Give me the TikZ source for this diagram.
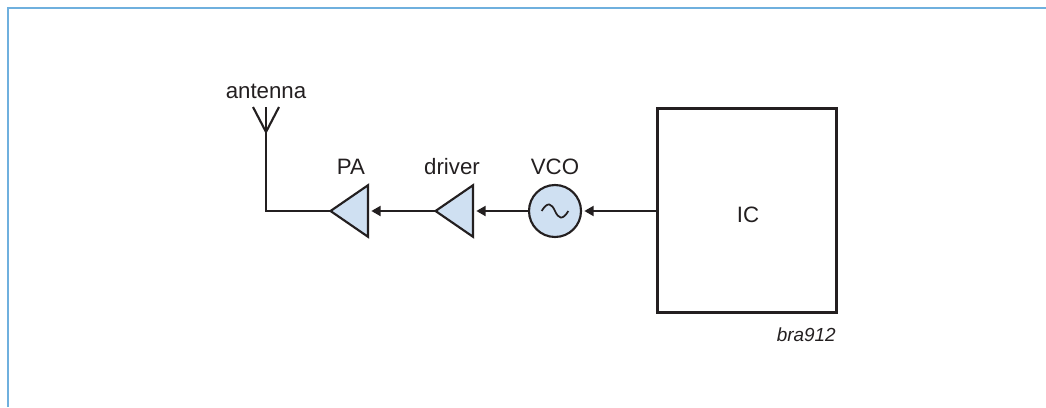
\documentclass[tikz,border=0pt]{standalone}
\usepackage{fontspec}
\setmainfont{Liberation Sans}
\usetikzlibrary{arrows.meta,shapes.geometric}
\definecolor{framecol}{HTML}{6FB0DE}
\definecolor{ampcol}{HTML}{CFE0F2}
\definecolor{inkcol}{HTML}{231F20}

\begin{document}
\begin{tikzpicture}[x=.75pt,y=-.75pt,font=\fontsize{16.7}{18}\selectfont,text=inkcol,
  wire/.style={draw=inkcol,line width=1.6pt},
  feed/.style={wire,-{Triangle[length=7pt,width=7.5pt]},shorten >=2.5pt},
  amp/.style={draw=inkcol,fill=ampcol,line width=1.6pt,shape=isosceles triangle,shape border rotate=180,
    isosceles triangle apex angle=69,minimum height=28bp,inner sep=0pt,outer sep=0pt,anchor=east},
  lbl/.style={inner sep=0pt,anchor=base}]
\useasboundingbox (0,0) rectangle (1046,407);

\draw[framecol,line width=1.3pt] (8,407) -- (8,8) -- (1046,8);

\coordinate (foot) at (266,211);
\coordinate (fork) at (266,132);
\coordinate (forkl) at (253,107);
\coordinate (forkm) at (266,107);
\coordinate (forkr) at (279,107);

\node[amp] (pa) at (368,211) {};
\node[amp] (driver) at (473,211) {};
\node[circle,draw=inkcol,fill=ampcol,line width=1.6pt,minimum size=39pt,inner sep=0pt,outer sep=0pt] (vco) at (555,211) {};
\node[draw=inkcol,line width=1.9pt,minimum width=134pt,minimum height=153pt,inner sep=0pt,outer sep=0pt] (ic) at (747,210.5) {};

\node[lbl] (antennalbl) at (266,98) {antenna};
\node[lbl] (palbl) at (351,174.5) {PA};
\node[lbl] (driverlbl) at (452,174.5) {driver};
\node[lbl] (vcolbl) at (555,174.5) {VCO};
\node[lbl] (iclbl) at (748,222) {IC};
\node[inner sep=0pt,anchor=base east,font=\fontsize{14.2}{16}\selectfont\itshape] (idlbl) at (836,341) {bra912};

\draw[wire] (forkl) -- (fork) -- (forkr);
\draw[wire] (forkm) -- (fork) -- (foot) -- (pa.west);
\draw[feed] (driver.west) -- (pa.east);
\draw[feed] (vco.west) -- (driver.east);
\draw[feed] (ic.west |- vco.east) -- (vco.east);

\draw[inkcol,line width=1.3pt] ([xshift=-10pt]vco.center) .. controls ([xshift=-5.5pt,yshift=7.5pt]vco.center) and ([xshift=-2.5pt,yshift=5.5pt]vco.center) .. (vco.center) .. controls ([xshift=2.5pt,yshift=-5.5pt]vco.center) and ([xshift=5.5pt,yshift=-7.5pt]vco.center) .. ([xshift=10pt]vco.center);

\end{tikzpicture}
\end{document}
